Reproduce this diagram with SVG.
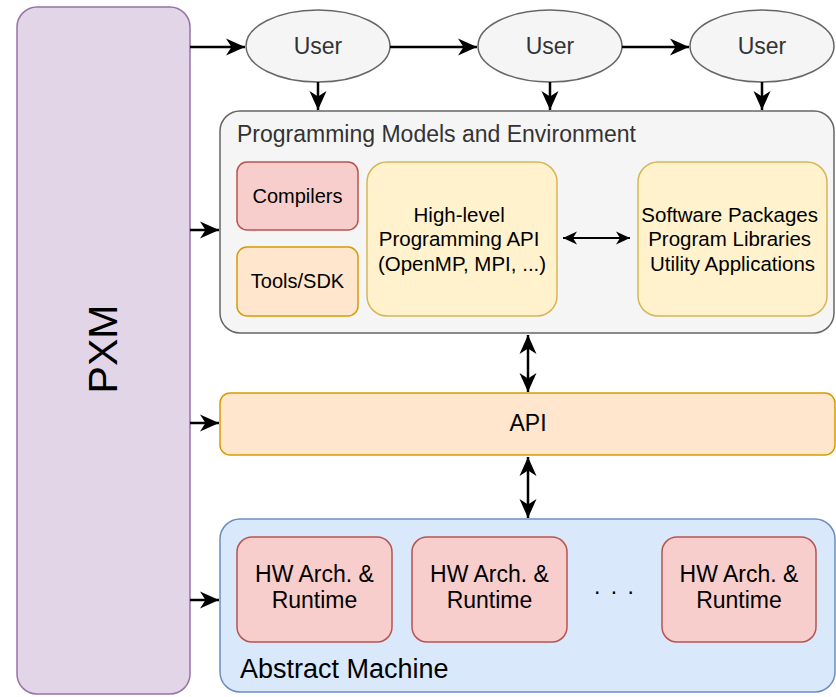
<svg xmlns="http://www.w3.org/2000/svg" width="836" height="697" viewBox="0 0 836 697">
  <defs>
    <style>
      text { font-family: "Liberation Sans", Arial, Helvetica, sans-serif; fill: #000; }
      .mid { text-anchor: middle; }
      .gray { fill: #333333; }
      .box-gray { fill: #f5f5f5; stroke: #666666; stroke-width: 1.5; }
      .box-purple { fill: #e1d5e7; stroke: #9673a6; stroke-width: 1.5; }
      .box-red { fill: #f8cecc; stroke: #b85450; stroke-width: 1.5; }
      .box-orange { fill: #ffe6cc; stroke: #d79b00; stroke-width: 1.5; }
      .box-yellow { fill: #fff2cc; stroke: #d6b656; stroke-width: 1.5; }
      .box-blue { fill: #dae8fc; stroke: #6c8ebf; stroke-width: 1.5; }
      .edge { fill: none; stroke: #000; stroke-width: 2.5; }
      .edge-thin { fill: none; stroke: #000; stroke-width: 2; }
    </style>
    <marker id="arrow" viewBox="-20 -10 21 20" refX="0" refY="0" markerWidth="21" markerHeight="20" markerUnits="userSpaceOnUse" orient="auto-start-reverse">
      <path d="M0,0 L-19,-8.5 L-13.5,0 L-19,8.5 Z" fill="#000"/>
    </marker>
    <marker id="arrow-sm" viewBox="-15 -8 16 16" refX="0" refY="0" markerWidth="16" markerHeight="16" markerUnits="userSpaceOnUse" orient="auto-start-reverse">
      <path d="M0,0 L-14,-6.5 L-10,0 L-14,6.5 Z" fill="#000"/>
    </marker>
  </defs>

  <!-- PXM side bar -->
  <g id="pxm">
    <rect class="box-purple" x="17" y="7" width="173" height="687" rx="20"/>
    <text transform="translate(117,349) rotate(-90)" class="mid" font-size="41">PXM</text>
  </g>

  <!-- Users -->
  <g id="user1">
    <ellipse class="box-gray" cx="318" cy="46" rx="72" ry="36"/>
    <text class="mid gray" x="318" y="54" font-size="23">User</text>
  </g>
  <g id="user2">
    <ellipse class="box-gray" cx="550" cy="46" rx="72" ry="36"/>
    <text class="mid gray" x="550" y="54" font-size="23">User</text>
  </g>
  <g id="user3">
    <ellipse class="box-gray" cx="762" cy="46" rx="72" ry="36"/>
    <text class="mid gray" x="762" y="54" font-size="23">User</text>
  </g>

  <!-- Programming models and environment -->
  <g id="pme">
    <rect class="box-gray" x="220" y="111" width="614" height="222" rx="20"/>
    <text class="gray" x="237" y="142" font-size="23">Programming Models and Environment</text>
  </g>
  <g id="compilers">
    <rect class="box-red" x="237" y="162" width="121" height="68" rx="10"/>
    <text class="mid" x="297.5" y="203" font-size="20">Compilers</text>
  </g>
  <g id="tools">
    <rect class="box-orange" x="237" y="247" width="121" height="69" rx="10"/>
    <text class="mid" x="297.5" y="288" font-size="20">Tools/SDK</text>
  </g>
  <g id="hl-api">
    <rect class="box-yellow" x="367" y="162" width="190" height="154" rx="20"/>
    <text class="mid" x="462" font-size="20.5">
      <tspan x="462" y="222">High-level</tspan>
      <tspan x="462" y="246">Programming API</tspan>
      <tspan x="462" y="270.5">(OpenMP, MPI, ...)</tspan>
    </text>
  </g>
  <g id="packages">
    <rect class="box-yellow" x="638" y="162" width="189" height="154" rx="20"/>
    <text class="mid" x="732.5" font-size="20.5">
      <tspan x="732.5" y="222">Software Packages</tspan>
      <tspan x="732.5" y="246">Program Libraries</tspan>
      <tspan x="732.5" y="270.5">Utility Applications</tspan>
    </text>
  </g>

  <!-- API layer -->
  <g id="api">
    <rect class="box-orange" x="220" y="393" width="615" height="62" rx="10"/>
    <text class="mid" x="528" y="431" font-size="23">API</text>
  </g>

  <!-- Abstract machine -->
  <g id="abstract-machine">
    <rect class="box-blue" x="220" y="519" width="615" height="173" rx="20"/>
    <text x="240" y="678" font-size="27">Abstract Machine</text>
  </g>
  <g id="hw1">
    <rect class="box-red" x="237" y="537" width="155" height="105" rx="15"/>
    <text class="mid" font-size="23"><tspan x="314.5" y="582">HW Arch. &amp;</tspan><tspan x="314.5" y="608">Runtime</tspan></text>
  </g>
  <g id="hw2">
    <rect class="box-red" x="412" y="537" width="155" height="105" rx="15"/>
    <text class="mid" font-size="23"><tspan x="489.5" y="582">HW Arch. &amp;</tspan><tspan x="489.5" y="608">Runtime</tspan></text>
  </g>
  <g id="ellipsis">
    <text x="594" y="594" font-size="23" letter-spacing="2">. . .</text>
  </g>
  <g id="hw3">
    <rect class="box-red" x="662" y="537" width="154" height="105" rx="15"/>
    <text class="mid" font-size="23"><tspan x="739" y="582">HW Arch. &amp;</tspan><tspan x="739" y="608">Runtime</tspan></text>
  </g>

  <!-- Connectors -->
  <g id="connectors">
    <line class="edge" x1="190" y1="47" x2="245" y2="47" marker-end="url(#arrow)"/>
    <line class="edge" x1="390" y1="47" x2="477" y2="47" marker-end="url(#arrow)"/>
    <line class="edge" x1="622" y1="47" x2="689" y2="47" marker-end="url(#arrow)"/>
    <line class="edge" x1="318" y1="82" x2="318" y2="110" marker-end="url(#arrow)"/>
    <line class="edge" x1="550" y1="82" x2="550" y2="110" marker-end="url(#arrow)"/>
    <line class="edge" x1="762" y1="82" x2="762" y2="110" marker-end="url(#arrow)"/>
    <line class="edge" x1="190" y1="230" x2="219" y2="230" marker-end="url(#arrow)"/>
    <line class="edge" x1="190" y1="423" x2="219" y2="423" marker-end="url(#arrow)"/>
    <line class="edge" x1="190" y1="600" x2="219" y2="600" marker-end="url(#arrow)"/>
    <line class="edge-thin" x1="563" y1="238" x2="630" y2="238" marker-start="url(#arrow-sm)" marker-end="url(#arrow-sm)"/>
    <line class="edge" x1="528" y1="335" x2="528" y2="392" marker-start="url(#arrow)" marker-end="url(#arrow)"/>
    <line class="edge" x1="528" y1="457" x2="528" y2="518" marker-start="url(#arrow)" marker-end="url(#arrow)"/>
  </g>
</svg>
